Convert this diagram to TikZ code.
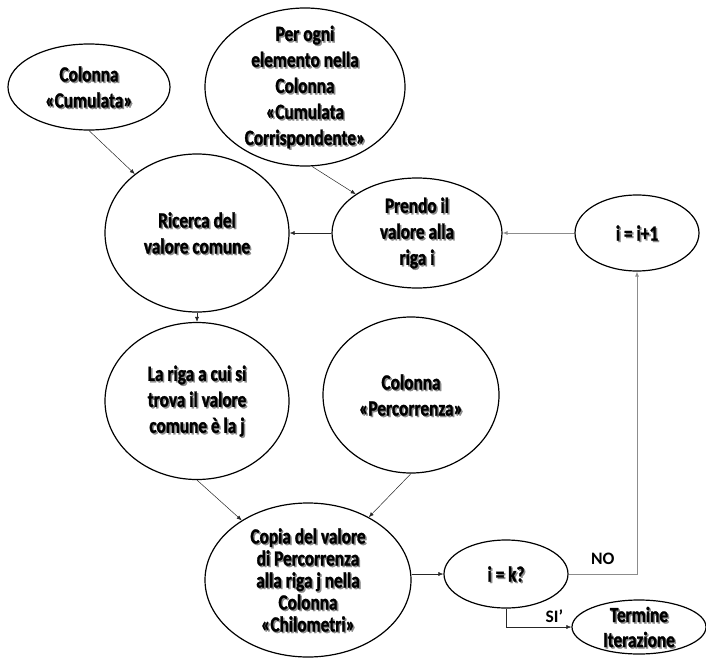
\documentclass[tikz,border=0pt]{standalone}
\usepackage{fontspec}
\setmainfont{Carlito}[FakeStretch=0.8, BoldFeatures={FakeBold=1.3}]
\newfontfamily\edgefont{Carlito}
\usetikzlibrary{shapes.geometric,arrows.meta}
\begin{document}
\begin{tikzpicture}[x=1pt,y=-1pt,
  bub/.style={draw=black, ellipse, line width=1.2pt, inner sep=0pt},
  txt/.style={align=center, inner sep=0pt,
    font=\fontsize{21.6}{26}\selectfont\bfseries},
  txtsh/.style={txt, text=black!45, xshift=1.5pt, yshift=-1.5pt},
  tip/.style={-{Latex[length=5pt,width=4pt]}},
  con/.style={tip, line width=0.5pt, draw=black!85},
  gcon/.style={tip, line width=0.8pt, draw=black!45},
  elabel/.style={font=\edgefont\fontsize{17.5}{19}\selectfont\bfseries, inner sep=0pt}
]
\useasboundingbox (0,0) rectangle (706,661);

% bubbles: each text is set twice, a grey copy first as its shadow
\node[bub, minimum width=162pt, minimum height=86pt,
  label={[txtsh]center:{Colonna\\«Cumulata»}},
  label={[txt]center:{Colonna\\«Cumulata»}}] (cum) at (89,87) {};

\node[bub, minimum width=200pt, minimum height=158pt,
  label={[txtsh]center:{Per ogni\\elemento nella\\Colonna\\«Cumulata\\Corrispondente»}},
  label={[txt]center:{Per ogni\\elemento nella\\Colonna\\«Cumulata\\Corrispondente»}}] (per) at (305,87) {};

\node[bub, minimum width=184pt, minimum height=158pt,
  label={[txtsh]center:{Ricerca del\\valore comune}},
  label={[txt]center:{Ricerca del\\valore comune}}] (ric) at (197,233) {};

\node[bub, minimum width=170pt, minimum height=110pt,
  label={[txtsh]center:{Prendo il\\valore alla\\riga i}},
  label={[txt]center:{Prendo il\\valore alla\\riga i}}] (pre) at (417,233) {};

\node[bub, minimum width=124pt, minimum height=76pt,
  label={[txtsh]center:{i = i+1}},
  label={[txt]center:{i = i+1}}] (inc) at (637,233) {};

\node[bub, minimum width=184pt, minimum height=157pt,
  label={[txtsh]center:{La riga a cui si\\trova il valore\\comune è la j}},
  label={[txt]center:{La riga a cui si\\trova il valore\\comune è la j}}] (rig) at (197,401) {};

\node[bub, minimum width=176pt, minimum height=156pt,
  label={[txtsh]center:{Colonna\\«Percorrenza»}},
  label={[txt]center:{Colonna\\«Percorrenza»}}] (perc) at (411,395) {};

\node[bub, minimum width=206pt, minimum height=154pt,
  label={[txtsh, font=\fontsize{21.6}{22}\selectfont\bfseries]center:{Copia del valore\\di Percorrenza\\alla riga j nella\\Colonna\\«Chilometri»}},
  label={[txt, font=\fontsize{21.6}{22}\selectfont\bfseries]center:{Copia del valore\\di Percorrenza\\alla riga j nella\\Colonna\\«Chilometri»}}] (cop) at (308,580) {};

\node[bub, minimum width=124pt, minimum height=68pt,
  label={[txtsh]center:{i = k?}},
  label={[txt]center:{i = k?}}] (ik) at (506,574) {};

\node[bub, minimum width=134pt, minimum height=54pt,
  label={[txtsh, font=\fontsize{21.6}{25}\selectfont\bfseries]center:{Termine\\Iterazione}},
  label={[txt, font=\fontsize{21.6}{25}\selectfont\bfseries]center:{Termine\\Iterazione}}] (ter) at (639,627) {};

% connectors
\draw[con] (cum.south) -- (ric);
\draw[con] (per.-85) -- (pre);
\draw[con] (pre) -- (ric);
\draw[gcon] (inc) -- (pre);
\draw[con] (ric) -- (rig);
\draw[con] (rig.south) -- (cop);
\draw[con] (perc.south) -- (cop);
\draw[con] (cop.east |- ik) -- (ik);
\draw[gcon] (ik.east) -| node[pos=0.25, above=9pt, elabel, text=black] {NO} (inc.south);
\draw[con] (ik.south) |- node[pos=0.87, above=4pt, elabel, text=black] {SI’} (ter.west);
\end{tikzpicture}
\end{document}
